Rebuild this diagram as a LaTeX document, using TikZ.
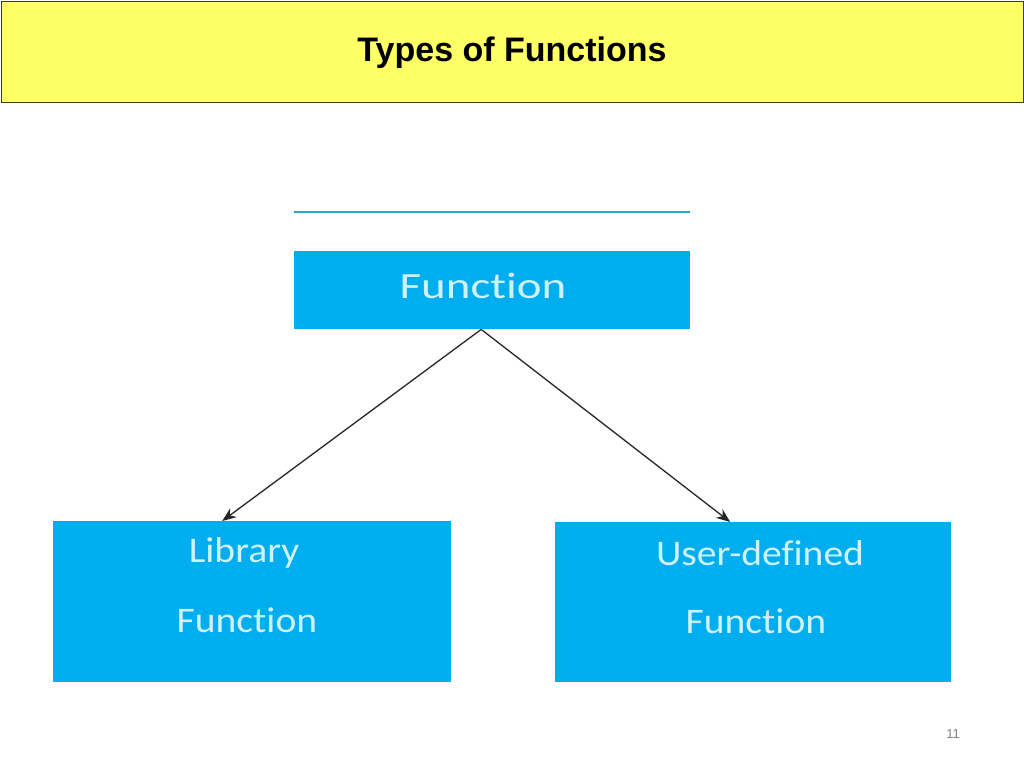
\documentclass[tikz,border=0pt]{standalone}
\usepackage{fontspec}
\setmainfont{Liberation Sans}
\newfontfamily\boxfont[FakeStretch=1.1,Ligatures=NoCommon]{Carlito}
\newfontfamily\topboxfont[FakeStretch=1.27,Ligatures=NoCommon]{Carlito}
\usetikzlibrary{arrows.meta}
\definecolor{titlebg}{RGB}{255,255,102}
\definecolor{titleborder}{RGB}{60,60,20}
\definecolor{boxblue}{RGB}{0,174,239}
\definecolor{boxtext}{RGB}{205,242,250}
\definecolor{lineblue}{RGB}{40,170,215}
\definecolor{pagegray}{RGB}{130,130,130}
\tikzset{
  bluebox/.style={fill=boxblue, draw=none, inner sep=0pt},
  boxlabel/.style={text=boxtext, font=\boxfont\fontsize{36}{42}\selectfont, inner sep=0pt},
  toplabel/.style={text=boxtext, font=\topboxfont\fontsize{37}{42}\selectfont, inner sep=0pt},
  arrowline/.style={draw=black!85, line width=1.3pt, -{Stealth[length=14pt,width=11pt]}},
}
\begin{document}
\begin{tikzpicture}[x=1pt,y=-1pt]
\useasboundingbox (0,0) rectangle (1024,768);
\fill[white] (0,0) rectangle (1024,768);
% title band
\node[draw=titleborder, fill=titlebg, line width=1pt, minimum width=1022pt, minimum height=101pt, inner sep=0pt, anchor=north west] (band) at (1,1) {};
\node[font=\bfseries\fontsize{34}{38}\selectfont, inner sep=0pt] (title) at (512,53) {Types of Functions};
% top line
\coordinate (la) at (294,212);
\coordinate (lb) at (690,212);
\draw[lineblue, line width=2pt] (la) -- (lb);
% boxes
\node[bluebox, minimum width=396pt, minimum height=78pt, anchor=north west] (fn) at (294,251) {};
\node[toplabel] (fnt) at (483,286) {Function};
\node[bluebox, minimum width=398pt, minimum height=161pt, anchor=north west] (lib) at (53,521) {};
\node[boxlabel] (libt1) at (244,553) {Library};
\node[boxlabel] (libt2) at (247,620) {Function};
\node[bluebox, minimum width=396pt, minimum height=160pt, anchor=north west] (usr) at (555,522) {};
\node[boxlabel] (usrt1) at (760,553) {User-defined};
\node[boxlabel] (usrt2) at (756,621) {Function};
% arrows
\coordinate (src) at ([xshift=-11pt]fn.south);
\draw[arrowline] (src) -- ([xshift=-30pt]lib.north);
\draw[arrowline] (src) -- ([xshift=-23pt]usr.north);
% page number
\node[text=pagegray, font=\fontsize{13}{15}\selectfont, inner sep=0pt] (pg) at (953,734) {11};
\end{tikzpicture}
\end{document}
